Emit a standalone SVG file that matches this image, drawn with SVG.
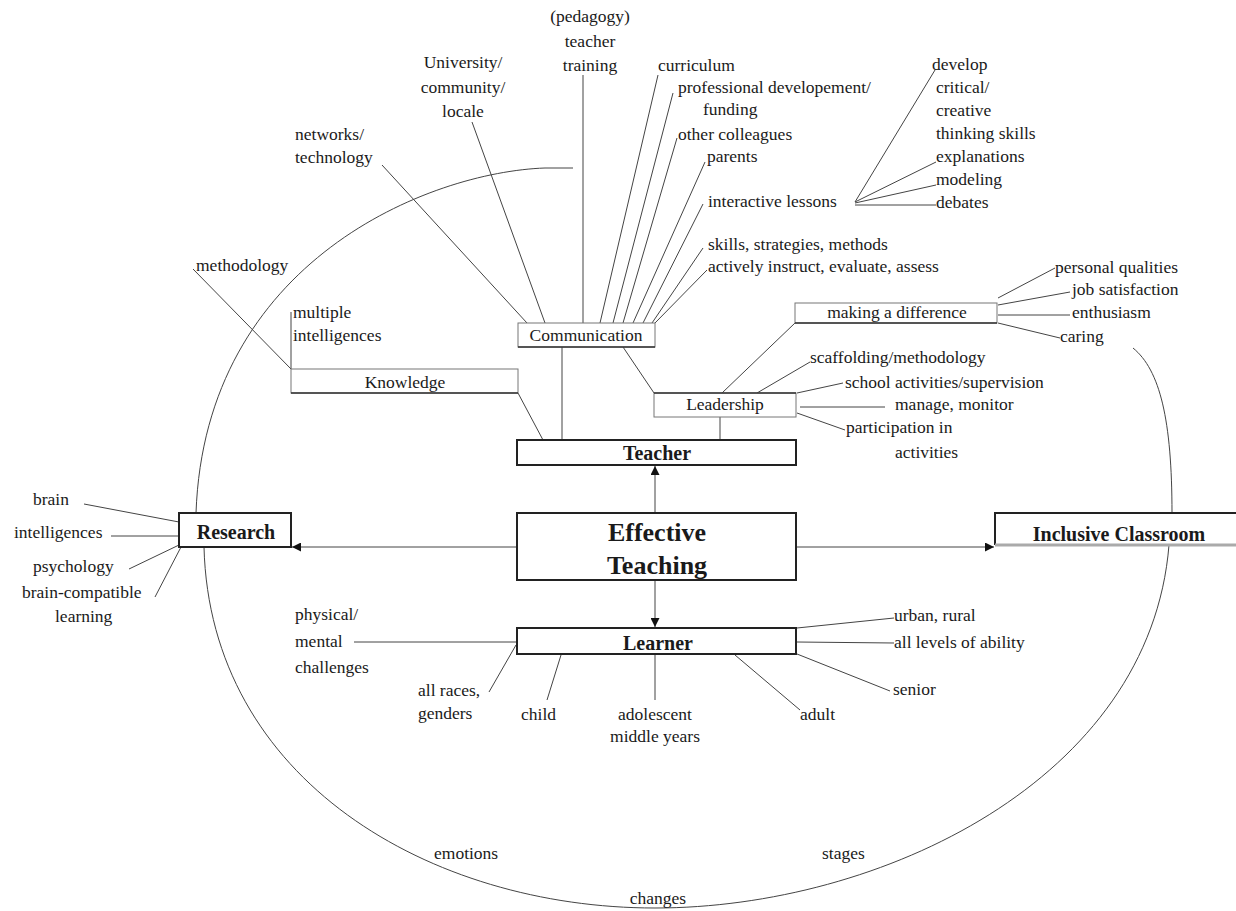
<svg xmlns="http://www.w3.org/2000/svg" width="1236" height="911" viewBox="0 0 1236 911">
<style>
text{font-family:"Liberation Serif","Times New Roman",serif;fill:#1a1a1a}
.t{font-size:17.5px}
.m{text-anchor:middle}
.b{font-weight:bold;font-size:20px;text-anchor:middle}
.big{font-weight:bold;font-size:26px;text-anchor:middle}
.ln{stroke:#444;stroke-width:1;fill:none}
.box{fill:#fff;stroke:#777;stroke-width:1}
.sb{fill:#fff;stroke:#222;stroke-width:2}
</style>
<defs>
<marker id="ah" viewBox="0 0 10 10" refX="10" refY="5" markerWidth="9" markerHeight="9" markerUnits="userSpaceOnUse" orient="auto">
<path d="M0,0 L10,5 L0,10 z" fill="#111"/>
</marker>
</defs>
<rect width="1236" height="911" fill="#fff"/>

<g id="connectors">
<!-- big curves -->
<path class="ln" d="M573,168 L545,168 C430,172 205,260 196,513"/>
<path class="ln" d="M204,547 C210,780 430,908 655,908 C880,908 1150,780 1169,545"/>
<path class="ln" d="M1133,348 C1160,370 1172,420 1172,513"/>
<!-- communication branches -->
<line class="ln" x1="382" y1="165" x2="527" y2="323"/>
<line class="ln" x1="472" y1="122" x2="545" y2="323"/>
<line class="ln" x1="583" y1="75" x2="583" y2="323"/>
<line class="ln" x1="658" y1="75" x2="600" y2="323"/>
<line class="ln" x1="673" y1="93" x2="613" y2="323"/>
<line class="ln" x1="677" y1="138" x2="623" y2="323"/>
<line class="ln" x1="705" y1="162" x2="633" y2="323"/>
<line class="ln" x1="703" y1="204" x2="643" y2="323"/>
<line class="ln" x1="703" y1="248" x2="652" y2="323"/>
<line class="ln" x1="707" y1="270" x2="655" y2="323"/>
<!-- interactive lessons hub -->
<line class="ln" x1="855" y1="202" x2="935" y2="70"/>
<line class="ln" x1="855" y1="202" x2="936" y2="162"/>
<line class="ln" x1="855" y1="203" x2="936" y2="185"/>
<line class="ln" x1="855" y1="205" x2="936" y2="205"/>
<!-- knowledge -->
<line class="ln" x1="193" y1="269" x2="291" y2="369"/>
<line class="ln" x1="291" y1="312" x2="291" y2="369"/>
<line class="ln" x1="518" y1="393" x2="543" y2="440"/>
<!-- communication to teacher / leadership -->
<line class="ln" x1="562" y1="347" x2="562" y2="440"/>
<line class="ln" x1="623" y1="347" x2="654" y2="393"/>
<line class="ln" x1="720" y1="417" x2="720" y2="440"/>
<line class="ln" x1="722" y1="393" x2="795" y2="323"/>
<!-- leadership branches -->
<line class="ln" x1="757" y1="393" x2="810" y2="362"/>
<line class="ln" x1="797" y1="393" x2="843" y2="383"/>
<line class="ln" x1="800" y1="407" x2="885" y2="407"/>
<line class="ln" x1="797" y1="413" x2="845" y2="430"/>
<!-- making a difference branches -->
<line class="ln" x1="998" y1="298" x2="1055" y2="268"/>
<line class="ln" x1="998" y1="305" x2="1070" y2="292"/>
<line class="ln" x1="998" y1="315" x2="1070" y2="315"/>
<line class="ln" x1="998" y1="323" x2="1060" y2="338"/>
<!-- research branches -->
<line class="ln" x1="84" y1="504" x2="179" y2="522"/>
<line class="ln" x1="111" y1="536" x2="179" y2="536"/>
<line class="ln" x1="129" y1="569" x2="179" y2="545"/>
<line class="ln" x1="155" y1="597" x2="181" y2="547"/>
<!-- learner branches -->
<line class="ln" x1="354" y1="642" x2="517" y2="642"/>
<line class="ln" x1="516" y1="645" x2="489" y2="692"/>
<line class="ln" x1="561" y1="655" x2="547" y2="700"/>
<line class="ln" x1="655" y1="654" x2="655" y2="700"/>
<line class="ln" x1="735" y1="655" x2="800" y2="710"/>
<line class="ln" x1="797" y1="654" x2="890" y2="691"/>
<line class="ln" x1="797" y1="642" x2="894" y2="643"/>
<line class="ln" x1="797" y1="628" x2="894" y2="618"/>
<!-- arrows from Effective Teaching -->
<line class="ln" x1="655" y1="513" x2="655" y2="466" marker-end="url(#ah)"/>
<line class="ln" x1="655" y1="580" x2="655" y2="627" marker-end="url(#ah)"/>
<line class="ln" x1="517" y1="547" x2="292" y2="547" marker-end="url(#ah)"/>
<line class="ln" x1="796" y1="547" x2="994" y2="547" marker-end="url(#ah)"/>
</g>

<g id="labels-top">
<text class="t m" x="590" y="22">(pedagogy)</text>
<text class="t m" x="590" y="47">teacher</text>
<text class="t m" x="590" y="71">training</text>
<text class="t m" x="463" y="68">University/</text>
<text class="t m" x="463" y="93">community/</text>
<text class="t m" x="463" y="117">locale</text>
<text class="t" x="295" y="140">networks/</text>
<text class="t" x="295" y="163">technology</text>
<text class="t" x="658" y="71">curriculum</text>
<text class="t" x="678" y="93">professional developement/</text>
<text class="t" x="703" y="115">funding</text>
<text class="t" x="678" y="140">other colleagues</text>
<text class="t" x="707" y="162">parents</text>
<text class="t" x="708" y="207">interactive lessons</text>
<text class="t" x="708" y="250">skills, strategies, methods</text>
<text class="t" x="708" y="272">actively instruct, evaluate, assess</text>
<text class="t" x="932" y="70">develop</text>
<text class="t" x="936" y="93">critical/</text>
<text class="t" x="936" y="116">creative</text>
<text class="t" x="936" y="139">thinking skills</text>
<text class="t" x="936" y="162">explanations</text>
<text class="t" x="936" y="185">modeling</text>
<text class="t" x="936" y="208">debates</text>
<text class="t" x="196" y="271">methodology</text>
<text class="t" x="293" y="318">multiple</text>
<text class="t" x="293" y="341">intelligences</text>
</g>

<g id="node-communication">
<rect class="box" x="518" y="323" width="137" height="24"/>
<line x1="518" y1="347" x2="655" y2="347" stroke="#333" stroke-width="1.5"/>
<text class="t m" x="586" y="341">Communication</text>
</g>
<g id="node-knowledge">
<rect class="box" x="291" y="369" width="227" height="24" stroke="#aaa"/>
<line x1="291" y1="393" x2="518" y2="393" stroke="#333" stroke-width="1.5"/>
<text class="t m" x="405" y="388">Knowledge</text>
</g>
<g id="node-leadership">
<rect class="box" x="654" y="393" width="142" height="24"/>
<line x1="654" y1="393" x2="796" y2="393" stroke="#333" stroke-width="1.5"/>
<text class="t m" x="725" y="410">Leadership</text>
</g>
<g id="node-making-difference">
<rect class="box" x="795" y="303" width="202" height="20" stroke="#aaa"/>
<line x1="795" y1="323" x2="997" y2="323" stroke="#333" stroke-width="1.5"/>
<text class="t m" x="897" y="318">making a difference</text>
</g>
<g id="labels-leadership">
<text class="t" x="1055" y="273">personal qualities</text>
<text class="t" x="1072" y="295">job satisfaction</text>
<text class="t" x="1072" y="318">enthusiasm</text>
<text class="t" x="1060" y="342">caring</text>
<text class="t" x="810" y="363">scaffolding/methodology</text>
<text class="t" x="845" y="388">school activities/supervision</text>
<text class="t" x="895" y="410">manage, monitor</text>
<text class="t" x="846" y="433">participation in</text>
<text class="t" x="895" y="458">activities</text>
</g>

<g id="node-teacher">
<rect class="sb" x="517" y="440" width="279" height="25"/>
<text class="b" x="657" y="460">Teacher</text>
</g>
<g id="node-effective-teaching">
<rect class="sb" x="517" y="513" width="279" height="67"/>
<text class="big" x="657" y="541">Effective</text>
<text class="big" x="657" y="574">Teaching</text>
</g>
<g id="node-research">
<rect class="sb" x="179" y="513" width="112" height="34"/>
<text class="b" x="236" y="539">Research</text>
</g>
<g id="node-inclusive-classroom">
<path d="M995,545 L995,513 L1236,513" fill="none" stroke="#222" stroke-width="2"/>
<line x1="995" y1="545" x2="1236" y2="545" stroke="#aaa" stroke-width="3"/>
<text class="b" x="1119" y="541">Inclusive Classroom</text>
</g>
<g id="node-learner">
<rect class="sb" x="517" y="628" width="279" height="26"/>
<text class="b" x="658" y="650">Learner</text>
</g>

<g id="labels-bottom">
<text class="t" x="33" y="505">brain</text>
<text class="t" x="14" y="538">intelligences</text>
<text class="t" x="33" y="572">psychology</text>
<text class="t" x="22" y="598">brain-compatible</text>
<text class="t" x="55" y="622">learning</text>
<text class="t" x="295" y="620">physical/</text>
<text class="t" x="295" y="647">mental</text>
<text class="t" x="295" y="673">challenges</text>
<text class="t" x="418" y="696">all races,</text>
<text class="t" x="418" y="719">genders</text>
<text class="t" x="521" y="720">child</text>
<text class="t m" x="655" y="720">adolescent</text>
<text class="t m" x="655" y="742">middle years</text>
<text class="t" x="800" y="720">adult</text>
<text class="t" x="893" y="695">senior</text>
<text class="t" x="894" y="621">urban, rural</text>
<text class="t" x="894" y="648">all levels of ability</text>
<text class="t" x="434" y="859">emotions</text>
<text class="t" x="822" y="859">stages</text>
<text class="t m" x="658" y="904">changes</text>
</g>
</svg>
